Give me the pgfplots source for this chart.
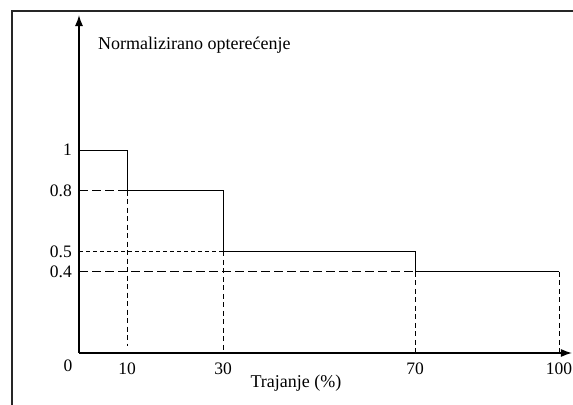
\documentclass[border=0pt]{standalone}
\usepackage{fontspec}
\setmainfont{Liberation Serif}
\usepackage{pgfplots}
\pgfplotsset{compat=1.18}
\usetikzlibrary{arrows.meta}
\begin{document}
\fontsize{18bp}{21bp}\selectfont
\begin{tikzpicture}
\useasboundingbox (0,0) rectangle (573bp,405bp);
\draw[line width=1.3bp, black!85] (12bp,-1bp) -- (12bp,394bp) -- (574bp,394bp);
\begin{axis}[
 at={(79bp,52bp)}, anchor=south west,
 x=4.8bp, y=203bp,
 xmin=0, xmax=102.7, ymin=0, ymax=1.665,
 axis lines=left,
 axis line style={line width=1.3bp, -{Latex[length=11bp,width=8bp]}},
 xtick={10,30,70,100}, ytick={0.4,0.5,0.8,1},
 xticklabels={10,30,70,100}, yticklabels={0.4,0.5,0.8,1},
 major tick length=0pt,
 tick label style={font=\fontsize{17.5bp}{20bp}\selectfont},
 xticklabel style={yshift=-4bp},
 yticklabel style={xshift=-1bp},
 /pgf/number format/assume math mode=true,
 clip=false,
]
% step function
\addplot[black, line width=0.9bp, mark=none] coordinates {
 (0,1) (10,1) (10,0.8) (30,0.8) (30,0.5) (70,0.5) (70,0.4) (100,0.4)};
% long-dashed horizontals
\addplot[black, line width=0.9bp, dash pattern=on 9bp off 4bp] coordinates {(0,0.8) (10,0.8)};
\addplot[black, line width=0.9bp, dash pattern=on 9bp off 4bp] coordinates {(0,0.4) (70,0.4)};
% short-dashed horizontal
\addplot[black, line width=0.9bp, dash pattern=on 4bp off 3bp] coordinates {(0,0.5) (30,0.5)};
% short-dashed verticals
\addplot[black, line width=0.9bp, dash pattern=on 5bp off 3.5bp] coordinates {(10,0.8) (10,0.035)};
\addplot[black, line width=0.9bp, dash pattern=on 5bp off 3.5bp] coordinates {(30,0.5) (30,0)};
\addplot[black, line width=0.9bp, dash pattern=on 5bp off 3.5bp] coordinates {(70,0.4) (70,0)};
\addplot[black, line width=0.9bp, dash pattern=on 5bp off 3.5bp] coordinates {(100,0.4) (100,0)};
\node[anchor=center, font=\fontsize{17.5bp}{20bp}\selectfont] at (axis cs:0,0) [xshift=-11bp, yshift=-13bp] {0};
\end{axis}
\node[anchor=base west] at (92bp,355bp) {Normalizirano optere\'{c}enje};
\node[anchor=center] at (296bp,22bp) {Trajanje (\%)};
\end{tikzpicture}
\end{document}
